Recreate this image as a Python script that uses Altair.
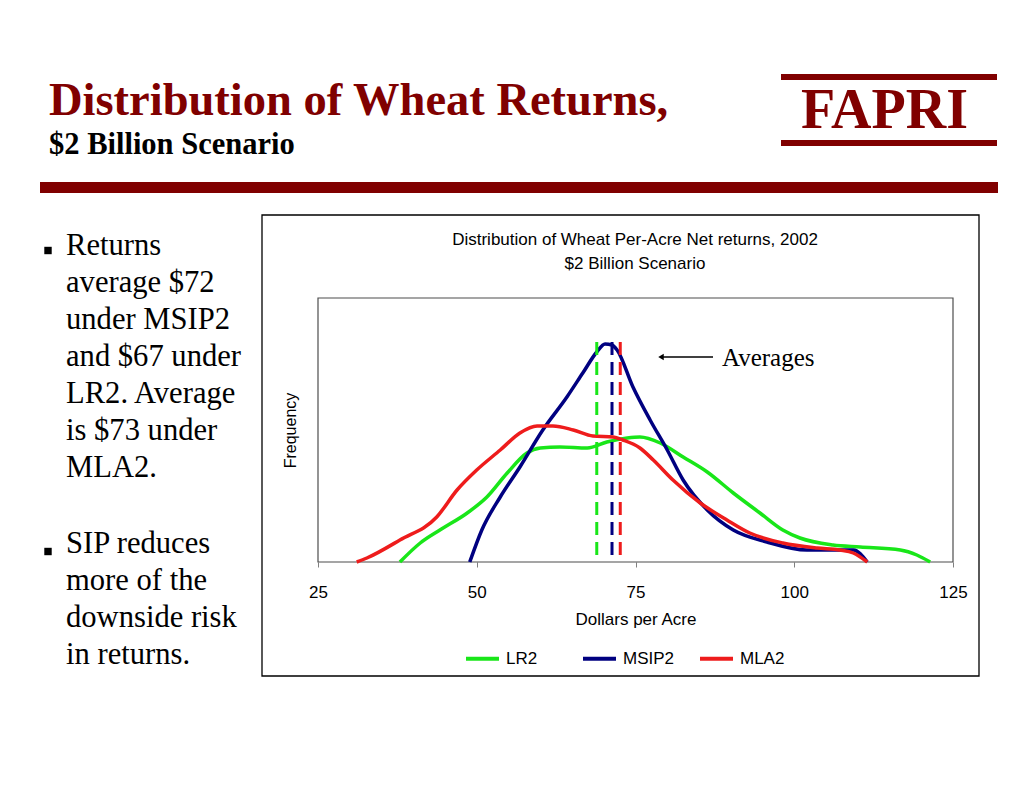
import altair as alt
import pandas as pd

# ---------------- data ----------------
series_names = ["LR2", "MSIP2", "MLA2"]
series_colors = ["#19e619", "#000080", "#ee1c1c"]

lr2_x = [37.9, 41.1, 44.2, 48.5, 51.6, 54.8, 57.9, 60.0, 63.1, 67.4, 70.5, 73.7,
         75.7, 78.9, 82.5, 86.3, 90.4, 94.6, 98.2, 100.9, 106.1, 110.4, 116.7, 119.3, 121.4]
lr2_f = [0, 19, 32, 49, 65, 89, 109, 114, 115, 114, 120, 124,
         125, 119, 105, 90, 69, 49, 32, 24, 17, 15, 12, 7, 0]

msip2_x = [48.9, 50.8, 53.7, 56.8, 60.4, 64.2, 66.7, 68.9, 70.2, 71.3, 72.1, 74.6,
           77.3, 80.0, 82.5, 86.3, 90.4, 95.7, 102.0, 109.3, 111.5]
msip2_f = [0, 32, 65, 95, 132, 165, 189, 210, 218, 217, 212, 175,
           142, 112, 82, 52, 32, 20, 12, 12, 0]

mla2_x = [31.1, 32.7, 37.9, 43.7, 46.9, 50.0, 53.7, 56.8, 59.5, 62.0, 65.2, 68.3,
          71.5, 73.0, 75.7, 77.8, 80.9, 85.2, 89.4, 93.0, 98.2, 103.6, 107.2, 109.3, 111.5]
mla2_f = [0, 4, 22, 45, 72, 92, 112, 129, 136, 136, 132, 126,
          125, 122, 114, 102, 82, 59, 42, 29, 19, 14, 12, 9, 0]

avg_values = [68.9, 71.3, 72.6]     # LR2, MSIP2, MLA2 average lines
avg_top = 220

x_ticks = [25, 50, 75, 100, 125]

header_title = "Distribution of Wheat Returns,"
header_sub = "$2 Billion Scenario"
logo_text = "FAPRI"
chart_title = ["Distribution of Wheat Per-Acre Net returns, 2002", "$2 Billion Scenario"]
bullet1 = ["Returns", "average $72", "under MSIP2", "and $67 under",
           "LR2. Average", "is $73 under", "MLA2."]
bullet2 = ["SIP reduces", "more of the", "downside risk", "in returns."]
annot_text = "Averages"

# ---------------- tables ----------------
rows = []
for name, xs, fs in [("LR2", lr2_x, lr2_f), ("MSIP2", msip2_x, msip2_f), ("MLA2", mla2_x, mla2_f)]:
    for i, (xv, fv) in enumerate(zip(xs, fs)):
        rows.append({"series": name, "dollars": xv, "freq": fv, "idx": i})
curves = pd.DataFrame(rows)
avgs = pd.DataFrame({"series": series_names, "avg": avg_values, "top": [avg_top] * 3})

one = alt.Data(values=[{"k": 1}])

DARK_RED = "#800000"
SERIF = "Liberation Serif"
SANS = "Liberation Sans"

xscale = alt.Scale(domain=[25, 125], nice=False, zero=False)
yscale = alt.Scale(domain=[0, 264], nice=False)
cscale = alt.Scale(domain=series_names, range=series_colors)

legend = alt.Legend(
    orient="none", legendX=146, legendY=342, direction="horizontal", columns=3,
    gridAlign="all", columnPadding=17, symbolType="stroke", symbolSize=1089,
    symbolStrokeWidth=4, labelFont=SANS, labelFontSize=17, labelColor="black",
    labelOffset=5, labelBaseline="middle", title=None, padding=0,
)

lines = alt.Chart(curves).mark_line(strokeWidth=3.5, interpolate="monotone").encode(
    x=alt.X("dollars:Q", scale=xscale, axis=alt.Axis(
        values=x_ticks, format="d", labelFont=SANS, labelFontSize=17, labelColor="black",
        labelFlush=False, labelOverlap=False, tickColor="#808080", tickSize=5,
        labelPadding=17, domain=False, grid=False, title="Dollars per Acre",
        titleFont=SANS, titleFontSize=17, titleFontWeight="normal", titleColor="black",
        titleY=62, titleBaseline="alphabetic")),
    y=alt.Y("freq:Q", scale=yscale, axis=alt.Axis(
        labels=False, ticks=False, domain=False, grid=False, title="Frequency",
        titleFont=SANS, titleFontSize=16, titleFontWeight="normal", titleColor="black",
        titleX=-23, titleY=132, titleBaseline="alphabetic", titleAlign="center", titleAngle=270)),
    color=alt.Color("series:N", scale=cscale, sort=series_names, legend=legend),
    order="idx:Q",
)

dashes = alt.Chart(avgs).mark_rule(strokeWidth=3, strokeDash=[13, 7]).encode(
    x="avg:Q", y="top:Q", y2=alt.datum(0),
    color=alt.Color("series:N", scale=cscale, sort=series_names, legend=None),
)

def text_layer(txt, x, y, align="left", **kw):
    return alt.Chart(one).mark_text(text=txt, align=align, baseline="alphabetic", **kw).encode(
        x=alt.value(x), y=alt.value(y))

def rect_layer(x, x2, y, y2, **kw):
    return alt.Chart(one).mark_rect(**kw).encode(
        x=alt.value(x), x2=alt.value(x2), y=alt.value(y), y2=alt.value(y2))

deco = [
    text_layer(header_title, -269, -183, font=SERIF, fontSize=46.5, fontWeight="bold", color=DARK_RED),
    text_layer(header_sub, -269, -144, font=SERIF, fontSize=30.5, fontWeight="bold", color="black"),
    text_layer(logo_text, 483, -170, font=SERIF, fontSize=56, fontWeight="bold", color=DARK_RED),
    rect_layer(463, 679, -224, -218, color=DARK_RED),
    rect_layer(463, 679, -158, -152, color=DARK_RED),
    rect_layer(-278, 680, -116, -105, color=DARK_RED),
    rect_layer(-56, 661, -83, 378, fillOpacity=0, stroke="black", strokeWidth=1.3),
    rect_layer(0, 635, 0, 264, fillOpacity=0, stroke="#4d4d4d", strokeWidth=1.2),
    text_layer(chart_title, 317, -53, align="center", font=SANS, fontSize=17, color="black",
               lineHeight=24),
    alt.Chart(one).mark_point(shape="square", filled=True, size=55, color="black", opacity=1).encode(
        x=alt.value(-270), y=alt.value(-47.5)),
    alt.Chart(one).mark_point(shape="square", filled=True, size=55, color="black", opacity=1).encode(
        x=alt.value(-270), y=alt.value(253.5)),
    text_layer(bullet1, -252, -43, font=SERIF, fontSize=30.6, color="black", lineHeight=37),
    text_layer(bullet2, -252, 255, font=SERIF, fontSize=30.6, color="black", lineHeight=37),
    alt.Chart(one).mark_rule(color="black", strokeWidth=1.5).encode(
        x=alt.value(343), x2=alt.value(395), y=alt.value(59)),
    alt.Chart(one).mark_point(shape="triangle-left", filled=True, size=40, color="black", opacity=1).encode(
        x=alt.value(343), y=alt.value(59)),
    text_layer(annot_text, 404, 68, font=SERIF, fontSize=25, color="black"),
]

chart = alt.layer(*deco, lines, dashes).properties(
    width=635, height=264,
    padding={"left": 310, "top": 290, "right": 63, "bottom": 221},
    autosize=alt.AutoSizeParams(type="none"),
    background="white",
).configure_view(strokeWidth=0)

chart.save("out.html", embed_options={"renderer": "svg", "actions": False})
